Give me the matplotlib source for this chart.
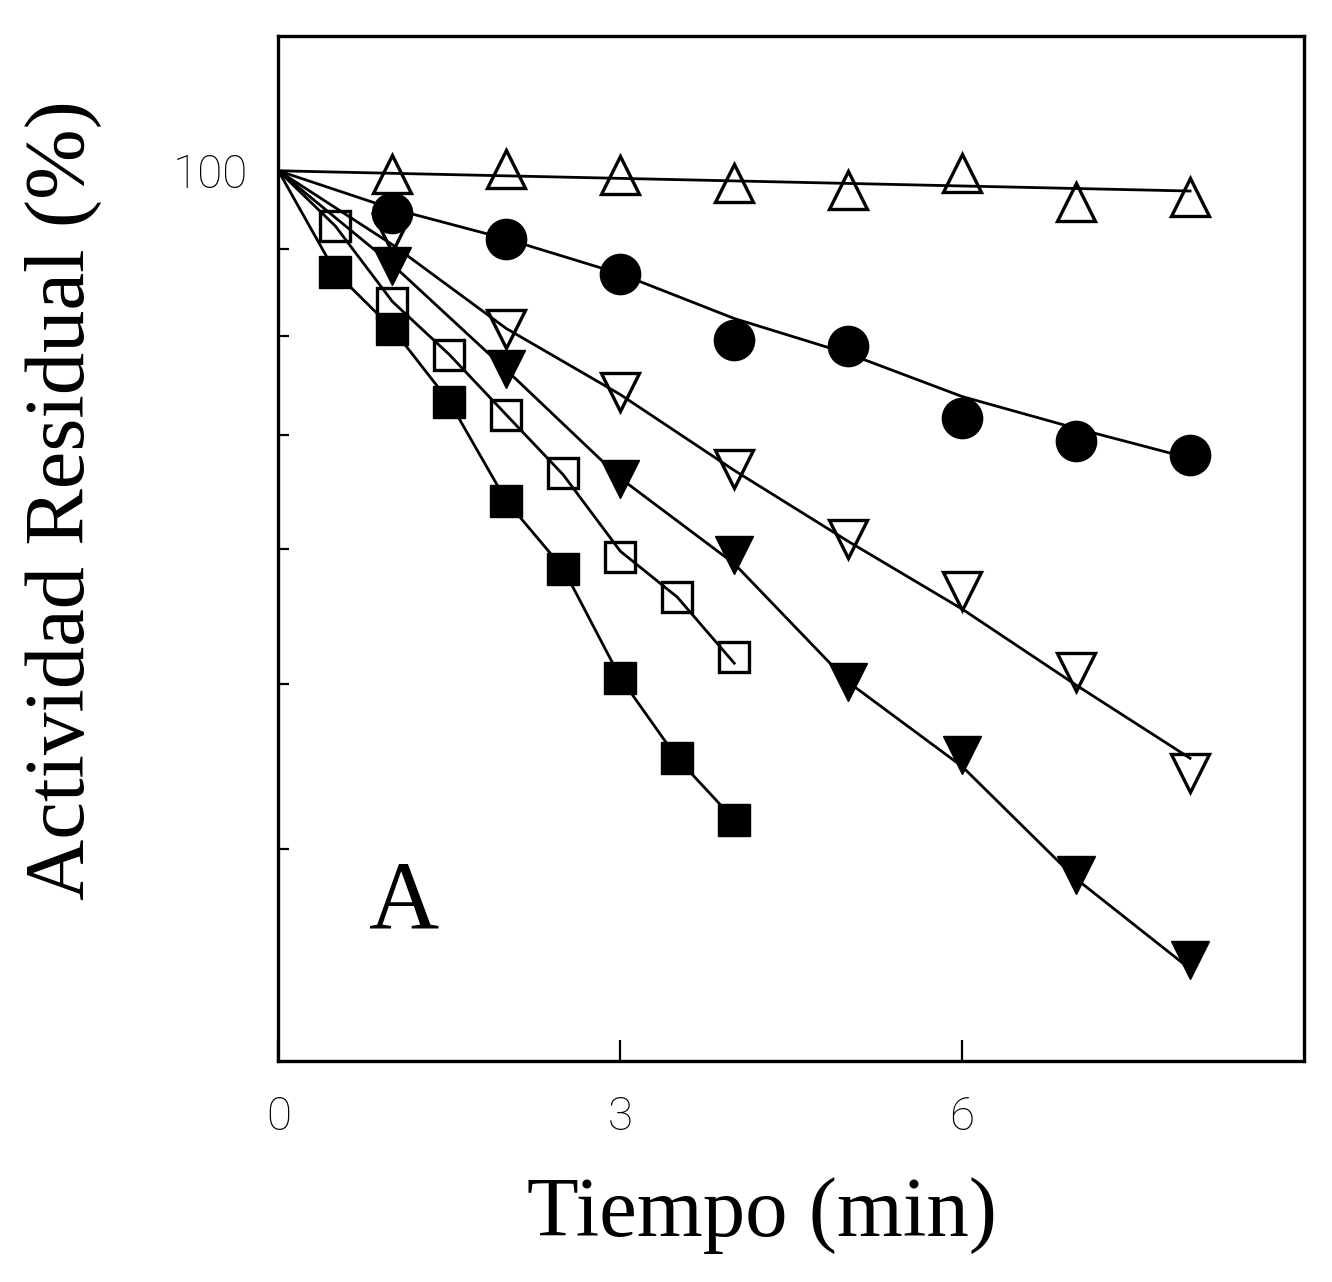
import numpy as np
import matplotlib
matplotlib.use("Agg")
import matplotlib.pyplot as plt

# sampling times (min)
t_long = [1, 2, 3, 4, 5, 6, 7, 8]
t_short = [0.5, 1, 1.5, 2, 2.5, 3, 3.5, 4]

# residual activity (%) for each series
open_up = [99.6, 100.3, 99.4, 98.3, 97.4, 99.7, 95.9, 96.5]
filled_circle = [94.4, 91.2, 87.0, 79.6, 78.9, 71.6, 69.4, 68.1]
open_down = [91.9, 80.8, 74.2, 66.8, 60.8, 56.7, 50.8, 44.3]
filled_down = [87.9, 76.5, 65.9, 59.5, 50.1, 45.4, 38.6, 34.4]
open_square = [92.8, 83.6, 78.0, 71.9, 66.5, 59.3, 56.2, 51.8]
filled_square = [87.2, 80.8, 73.2, 64.0, 58.4, 50.4, 45.2, 41.6]

# fitted curves (start at 100 % at t = 0)
fit_open_up_t = [0, 8]
fit_open_up = [100, 97.3]
fit_circle = [100, 95.0, 91.2, 87.0, 81.9, 78.1, 73.7, 70.6, 67.8]
fit_open_down = [100, 90.5, 80.8, 73.9, 66.7, 60.6, 55.3, 49.9, 45.2]
fit_filled_down = [100, 88.1, 76.4, 66.0, 58.8, 50.1, 44.7, 38.4, 34.0]
fit_open_square = [100, 92.8, 83.8, 78.0, 71.9, 66.3, 59.8, 56.2, 51.4]
fit_filled_square = [100, 87.2, 80.8, 73.2, 64.0, 58.4, 50.4, 45.2, 41.6]

yticks = [100, 90, 80, 70, 60, 50, 40]
xticks = [0, 3, 6]

serif = ["Liberation Serif", "DejaVu Serif"]
tickfont = dict(family=["Roboto", "DejaVu Sans"], weight="light", size=33)

fig = plt.figure(figsize=(13.32, 12.82), dpi=100)
ax = fig.add_axes([0.209, 0.172, 0.770, 0.800])
ax.set_yscale("log")

lw = 2.0
t_fit_long = [0] + t_long
t_fit_short = [0] + t_short
ax.plot(fit_open_up_t, fit_open_up, color="black", lw=lw, zorder=2)
ax.plot(t_fit_long, fit_circle, color="black", lw=lw, zorder=2)
ax.plot(t_fit_long, fit_open_down, color="black", lw=lw, zorder=2)
ax.plot(t_fit_long, fit_filled_down, color="black", lw=lw, zorder=2)
ax.plot(t_fit_short, fit_open_square, color="black", lw=lw, zorder=2)
ax.plot(t_fit_short, fit_filled_square, color="black", lw=lw, zorder=2)

mew = 2.4
ax.plot(t_long, open_up, ls="none", marker="^", ms=27, mfc="none",
        mec="black", mew=mew, zorder=3)
ax.plot(t_long, filled_circle, ls="none", marker="o", ms=29, mfc="black",
        mec="black", zorder=3)
ax.plot(t_long, open_down, ls="none", marker="v", ms=27, mfc="none",
        mec="black", mew=mew, zorder=3)
ax.plot(t_long, filled_down, ls="none", marker="v", ms=27, mfc="black",
        mec="black", zorder=3)
ax.plot(t_short, open_square, ls="none", marker="s", ms=22, mfc="none",
        mec="black", mew=mew, zorder=3)
ax.plot(t_short, filled_square, ls="none", marker="s", ms=23, mfc="black",
        mec="black", zorder=3)

ax.set_xlim(0, 9)
ax.set_ylim(30, 120)

ax.set_yticks(yticks)
ax.set_yticklabels(["100"] + [""] * (len(yticks) - 1))
ax.yaxis.set_minor_locator(matplotlib.ticker.NullLocator())
ax.set_xticks(xticks)
ax.set_xticklabels([str(v) for v in xticks])

ax.tick_params(axis="y", direction="in", length=8, width=1.6, pad=22)
ax.tick_params(axis="x", direction="in", length=15, width=1.6, pad=24)
for lab in ax.get_xticklabels() + ax.get_yticklabels():
    lab.set_fontfamily(tickfont["family"])
    lab.set_fontweight(tickfont["weight"])
    lab.set_fontsize(tickfont["size"])

for sp in ax.spines.values():
    sp.set_linewidth(2.4)

ax.text(1.1, 37.1, "A", family=serif, fontsize=70, ha="center", va="center")

fig.text(0.572, 0.052, "Tiempo (min)", family=serif, fontsize=61,
         ha="center", va="center")
fig.text(0.048, 0.61, "Actividad Residual (%)", family=serif, fontsize=61,
         ha="center", va="center", rotation=90)

fig.savefig("out.png", dpi=100)
